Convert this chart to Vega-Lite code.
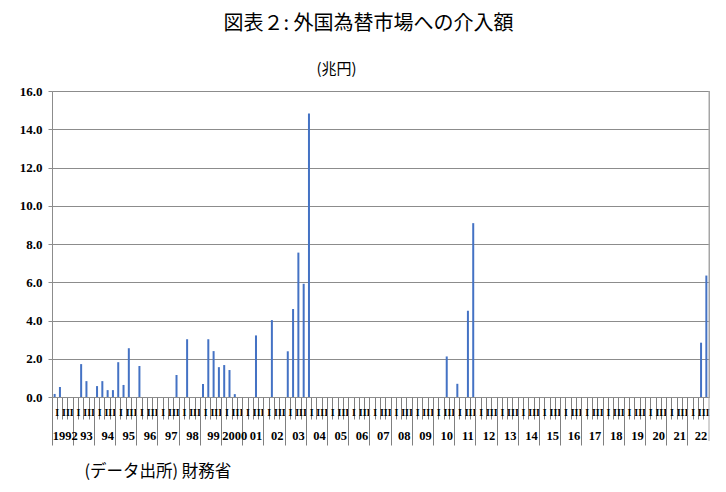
{
  "$schema": "https://vega.github.io/schema/vega-lite/v6.json",
  "autosize": "none",
  "width": 657,
  "height": 306,
  "padding": {"left": 52, "top": 91, "right": 17, "bottom": 95},
  "background": "white",
  "config": {"view": {"stroke": "#a6a6a6"}},
  "title": {
    "text": "図表２: 外国為替市場への介入額",
    "font": "Noto Sans CJK JP",
    "fontSize": 20,
    "fontWeight": "normal",
    "color": "#000000",
    "anchor": "middle",
    "frame": "group",
    "dx": -12,
    "offset": 27
  },
  "data": {
    "values": [
      {"q": "1992Q1", "v": 0.16}, {"q": "1992Q2", "v": 0.52}, {"q": "1992Q3", "v": 0}, {"q": "1992Q4", "v": 0},
      {"q": "1993Q1", "v": 0}, {"q": "1993Q2", "v": 1.72}, {"q": "1993Q3", "v": 0.83}, {"q": "1993Q4", "v": 0},
      {"q": "1994Q1", "v": 0.57}, {"q": "1994Q2", "v": 0.83}, {"q": "1994Q3", "v": 0.36}, {"q": "1994Q4", "v": 0.36},
      {"q": "1995Q1", "v": 1.82}, {"q": "1995Q2", "v": 0.63}, {"q": "1995Q3", "v": 2.55}, {"q": "1995Q4", "v": 0},
      {"q": "1996Q1", "v": 1.62}, {"q": "1996Q2", "v": 0}, {"q": "1996Q3", "v": 0}, {"q": "1996Q4", "v": 0},
      {"q": "1997Q1", "v": 0}, {"q": "1997Q2", "v": 0}, {"q": "1997Q3", "v": 0}, {"q": "1997Q4", "v": 1.15},
      {"q": "1998Q1", "v": 0}, {"q": "1998Q2", "v": 3.02}, {"q": "1998Q3", "v": 0}, {"q": "1998Q4", "v": 0},
      {"q": "1999Q1", "v": 0.68}, {"q": "1999Q2", "v": 3.02}, {"q": "1999Q3", "v": 2.4}, {"q": "1999Q4", "v": 1.56},
      {"q": "2000Q1", "v": 1.67}, {"q": "2000Q2", "v": 1.41}, {"q": "2000Q3", "v": 0.15}, {"q": "2000Q4", "v": 0},
      {"q": "2001Q1", "v": 0}, {"q": "2001Q2", "v": 0}, {"q": "2001Q3", "v": 3.22}, {"q": "2001Q4", "v": 0},
      {"q": "2002Q1", "v": 0}, {"q": "2002Q2", "v": 4.02}, {"q": "2002Q3", "v": 0}, {"q": "2002Q4", "v": 0},
      {"q": "2003Q1", "v": 2.39}, {"q": "2003Q2", "v": 4.6}, {"q": "2003Q3", "v": 7.55}, {"q": "2003Q4", "v": 5.92},
      {"q": "2004Q1", "v": 14.83}, {"q": "2004Q2", "v": 0}, {"q": "2004Q3", "v": 0}, {"q": "2004Q4", "v": 0},
      {"q": "2005Q1", "v": 0}, {"q": "2005Q2", "v": 0}, {"q": "2005Q3", "v": 0}, {"q": "2005Q4", "v": 0},
      {"q": "2006Q1", "v": 0}, {"q": "2006Q2", "v": 0}, {"q": "2006Q3", "v": 0}, {"q": "2006Q4", "v": 0},
      {"q": "2007Q1", "v": 0}, {"q": "2007Q2", "v": 0}, {"q": "2007Q3", "v": 0}, {"q": "2007Q4", "v": 0},
      {"q": "2008Q1", "v": 0}, {"q": "2008Q2", "v": 0}, {"q": "2008Q3", "v": 0}, {"q": "2008Q4", "v": 0},
      {"q": "2009Q1", "v": 0}, {"q": "2009Q2", "v": 0}, {"q": "2009Q3", "v": 0}, {"q": "2009Q4", "v": 0},
      {"q": "2010Q1", "v": 0}, {"q": "2010Q2", "v": 0}, {"q": "2010Q3", "v": 2.12}, {"q": "2010Q4", "v": 0},
      {"q": "2011Q1", "v": 0.69}, {"q": "2011Q2", "v": 0}, {"q": "2011Q3", "v": 4.51}, {"q": "2011Q4", "v": 9.09},
      {"q": "2012Q1", "v": 0}, {"q": "2012Q2", "v": 0}, {"q": "2012Q3", "v": 0}, {"q": "2012Q4", "v": 0},
      {"q": "2013Q1", "v": 0}, {"q": "2013Q2", "v": 0}, {"q": "2013Q3", "v": 0}, {"q": "2013Q4", "v": 0},
      {"q": "2014Q1", "v": 0}, {"q": "2014Q2", "v": 0}, {"q": "2014Q3", "v": 0}, {"q": "2014Q4", "v": 0},
      {"q": "2015Q1", "v": 0}, {"q": "2015Q2", "v": 0}, {"q": "2015Q3", "v": 0}, {"q": "2015Q4", "v": 0},
      {"q": "2016Q1", "v": 0}, {"q": "2016Q2", "v": 0}, {"q": "2016Q3", "v": 0}, {"q": "2016Q4", "v": 0},
      {"q": "2017Q1", "v": 0}, {"q": "2017Q2", "v": 0}, {"q": "2017Q3", "v": 0}, {"q": "2017Q4", "v": 0},
      {"q": "2018Q1", "v": 0}, {"q": "2018Q2", "v": 0}, {"q": "2018Q3", "v": 0}, {"q": "2018Q4", "v": 0},
      {"q": "2019Q1", "v": 0}, {"q": "2019Q2", "v": 0}, {"q": "2019Q3", "v": 0}, {"q": "2019Q4", "v": 0},
      {"q": "2020Q1", "v": 0}, {"q": "2020Q2", "v": 0}, {"q": "2020Q3", "v": 0}, {"q": "2020Q4", "v": 0},
      {"q": "2021Q1", "v": 0}, {"q": "2021Q2", "v": 0}, {"q": "2021Q3", "v": 0}, {"q": "2021Q4", "v": 0},
      {"q": "2022Q1", "v": 0}, {"q": "2022Q2", "v": 0}, {"q": "2022Q3", "v": 2.84}, {"q": "2022Q4", "v": 6.35}
    ]
  },
  "encoding": {
    "y": {
      "field": "v",
      "type": "quantitative",
      "scale": {"domain": [0, 16], "nice": false},
      "axis": {
        "title": "(兆円)",
        "titleAngle": 0,
        "titleX": 284,
        "titleY": -23,
        "titleAlign": "center",
        "titleBaseline": "middle",
        "titleFont": "Noto Sans CJK JP",
        "titleFontSize": 15,
        "titleFontWeight": "normal",
        "titleColor": "#000000",
        "values": [0, 2, 4, 6, 8, 10, 12, 14, 16],
        "format": ".1f",
        "labelFont": "Liberation Serif",
        "labelFontWeight": "bold",
        "labelFontSize": 13,
        "labelColor": "#000000",
        "labelPadding": 6,
        "tickSize": 4,
        "tickColor": "#8c8c8c",
        "domainColor": "#8c8c8c",
        "gridColor": "#8c8c8c",
        "grid": true
      }
    }
  },
  "layer": [
    {
      "mark": {"type": "bar", "color": "#4472c4", "size": 2},
      "encoding": {
        "x": {
          "field": "q",
          "type": "ordinal",
          "sort": null,
          "scale": {"paddingInner": 0, "paddingOuter": 0},
          "axis": {
            "orient": "bottom",
            "title": null,
            "domainColor": "#8c8c8c",
            "tickColor": "#7f7f7f",
            "bandPosition": 0,
            "tickSize": 22,
            "labelAngle": 0,
            "labelAlign": "center",
            "labelBaseline": "middle",
            "labelOverlap": false,
            "labelBound": false,
            "labelFlush": false,
            "labelFont": "Liberation Serif",
            "labelFontWeight": "bold",
            "labelFontSize": 10,
            "labelColor": "#000000",
            "labelPadding": -7,
            "labelOffset": 2.65,
            "labelExpr": "indexof(datum.value, 'Q1') > 0 ? 'I' : indexof(datum.value, 'Q3') > 0 ? 'III' : ''"
          }
        }
      }
    },
    {
      "mark": {"type": "bar", "opacity": 0, "size": 2},
      "encoding": {
        "x": {
          "field": "q",
          "type": "ordinal",
          "sort": null,
          "axis": {
            "orient": "bottom",
            "title": "(データ出所) 財務省",
            "titleFont": "Noto Sans CJK JP",
            "titleFontSize": 16.5,
            "titleFontWeight": "normal",
            "titleColor": "#000000",
            "titleX": 32,
            "titleY": 74,
            "titleAlign": "left",
            "titleBaseline": "middle",
            "domain": false,
            "tickColor": "#7f7f7f",
            "bandPosition": 0,
            "tickSize": 48,
            "tickOpacity": {"condition": {"test": "indexof(datum.value, 'Q1') > 0", "value": 1}, "value": 0},
            "labelAngle": 0,
            "labelAlign": "center",
            "labelBaseline": "middle",
            "labelOverlap": false,
            "labelBound": false,
            "labelFlush": false,
            "labelFont": "Liberation Serif",
            "labelFontWeight": "bold",
            "labelFontSize": 12.5,
            "labelColor": "#000000",
            "labelPadding": -10,
            "labelExpr": "indexof(datum.value, 'Q3') > 0 ? ((slice(datum.value, 0, 4) == '1992' || slice(datum.value, 0, 4) == '2000') ? slice(datum.value, 0, 4) : slice(datum.value, 2, 4)) : ''"
          }
        }
      }
    },
    {
      "transform": [{"filter": "datum.q == '2022Q4'"}],
      "mark": {"type": "rule", "color": "#a6a6a6", "clip": false},
      "encoding": {
        "x": {"field": "q", "type": "ordinal", "sort": null, "bandPosition": 1, "axis": null},
        "y": {"datum": 16},
        "y2": {"datum": -2.3}
      }
    }
  ],
  "resolve": {"axis": {"x": "independent"}}
}
